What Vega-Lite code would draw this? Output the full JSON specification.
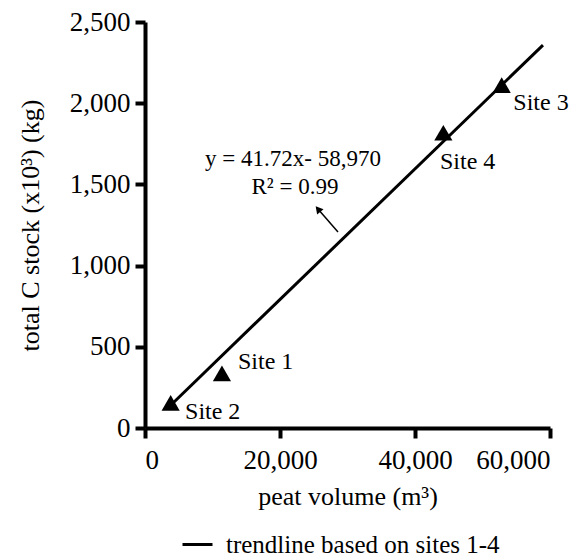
{
  "$schema": "https://vega.github.io/schema/vega-lite/v6.json",
  "autosize": {"type": "none"},
  "width": 405,
  "height": 406,
  "padding": {"left": 145, "top": 22, "right": 32, "bottom": 132},
  "background": "white",
  "config": {
    "view": {"stroke": null},
    "font": "Liberation Serif",
    "axis": {
      "grid": false,
      "domainColor": "black",
      "domainWidth": 4,
      "tickColor": "black",
      "tickWidth": 4,
      "tickSize": 10,
      "labelFont": "Liberation Serif",
      "labelFontSize": 27,
      "labelColor": "black",
      "titleFont": "Liberation Serif",
      "titleFontSize": 26,
      "titleFontWeight": "normal",
      "titleColor": "black"
    }
  },
  "datasets": {
    "sites": [
      {"site": "Site 1", "x": 11400, "y": 337},
      {"site": "Site 2", "x": 3800, "y": 155},
      {"site": "Site 3", "x": 52840, "y": 2112},
      {"site": "Site 4", "x": 44200, "y": 1818}
    ],
    "trend": [
      {"x": 4000, "y": 148},
      {"x": 58960, "y": 2358}
    ],
    "labels": [
      {"text": "Site 1", "x": 13780, "y": 406},
      {"text": "Site 2", "x": 5930, "y": 100},
      {"text": "Site 3", "x": 54570, "y": 2003},
      {"text": "Site 4", "x": 43700, "y": 1640}
    ],
    "notes": [
      {"text": "y = 41.72x- 58,970", "x": 21930, "y": 1655},
      {"text": "R² = 0.99", "x": 22220, "y": 1482}
    ],
    "arrow": [
      {"x": 28590, "y": 1207, "x2": 25400, "y2": 1360}
    ],
    "arrowhead": [
      {"x": 25630, "y": 1348}
    ]
  },
  "encoding": {
    "x": {
      "field": "x",
      "type": "quantitative",
      "scale": {"domain": [0, 60000], "nice": false, "zero": false},
      "axis": {"values": [0, 20000, 40000, 60000], "format": ",.0f", "title": "peat volume (m³)", "labelPadding": 9, "titlePadding": 10}
    },
    "y": {
      "field": "y",
      "type": "quantitative",
      "scale": {"domain": [0, 2500], "nice": false, "zero": false},
      "axis": {"values": [0, 500, 1000, 1500, 2000, 2500], "format": ",.0f", "title": "total C stock (x10³) (kg)", "labelPadding": 5, "titlePadding": 26}
    }
  },
  "layer": [
    {
      "data": {"name": "trend"},
      "mark": {"type": "line", "strokeWidth": 3},
      "encoding": {
        "stroke": {
          "datum": "trendline based on sites 1-4",
          "scale": {"range": ["black"]},
          "legend": {
            "title": null,
            "orient": "none",
            "legendX": 36,
            "legendY": 506,
            "symbolType": "stroke",
            "symbolSize": 900,
            "symbolStrokeWidth": 3,
            "symbolStrokeColor": "black",
            "labelFont": "Liberation Serif",
            "labelFontSize": 25,
            "labelColor": "black",
            "labelOffset": 12,
            "labelLimit": 500
          }
        }
      }
    },
    {
      "data": {"name": "sites"},
      "mark": {"type": "point", "shape": "triangle-up", "filled": true, "color": "black", "size": 330, "opacity": 1}
    },
    {
      "data": {"name": "labels"},
      "mark": {"type": "text", "align": "left", "baseline": "middle", "fontSize": 24, "color": "black"},
      "encoding": {"text": {"field": "text"}}
    },
    {
      "data": {"name": "notes"},
      "mark": {"type": "text", "align": "center", "baseline": "middle", "fontSize": 23, "color": "black"},
      "encoding": {"text": {"field": "text"}}
    },
    {
      "data": {"name": "arrow"},
      "mark": {"type": "rule", "strokeWidth": 1.5, "color": "black"},
      "encoding": {"x2": {"field": "x2"}, "y2": {"field": "y2"}}
    },
    {
      "data": {"name": "arrowhead"},
      "mark": {"type": "point", "shape": "triangle-up", "filled": true, "color": "black", "size": 70, "angle": 320, "opacity": 1}
    }
  ]
}
